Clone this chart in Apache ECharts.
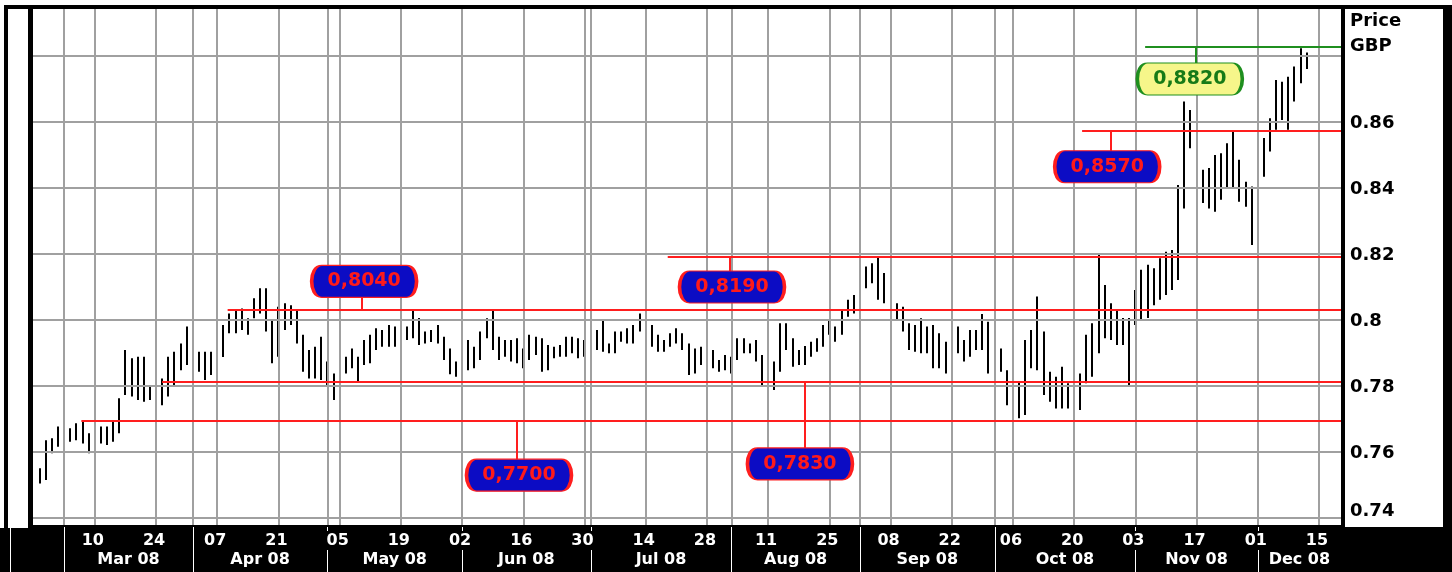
<!DOCTYPE html>
<html><head><meta charset="utf-8">
<script src="https://cdn.jsdelivr.net/npm/echarts@6/dist/echarts.min.js"></script>
<style>html,body{margin:0;padding:0;background:#000;}#c{width:1452px;height:572px;}</style>
</head><body><div id="c"></div>
<script>
// Trading-day index: 0 = Mon 2008-03-03 ; first bar = index -4 (Tue 2008-02-26)
const firstIndex = -4;
const highs = [
0.7551,0.7636,0.7642,0.7677,
0.7677,0.7672,0.7687,0.7692,0.7657,0.7642,0.7677,0.7677,0.7692,0.7763,
0.7909,0.7884,0.7889,0.7889,0.7798,0.7793,0.7823,0.7889,0.7904,0.7929,
0.7980,0.7961,0.7904,0.7904,0.7904,0.7914,0.7985,0.8020,0.8030,0.8035,
0.8005,0.8066,0.8096,0.8096,0.8000,0.8040,0.8051,0.8045,0.8030,0.7955,
0.7909,0.7919,0.7949,0.7874,0.7838,0.7891,0.7889,0.7914,0.7889,0.7939,
0.7955,0.7975,0.7970,0.7985,0.7980,0.7980,0.7980,0.8030,0.8006,0.7965,
0.7970,0.7985,0.7949,0.7914,0.7874,0.7924,0.7939,0.7919,0.7965,0.8005,
0.8030,0.7949,0.7939,0.7939,0.7945,0.7914,0.7955,0.7949,0.7945,0.7924,
0.7919,0.7924,0.7949,0.7949,0.7945,0.7939,0.7924,0.7970,0.8000,0.7929,
0.7965,0.7965,0.7975,0.7985,0.8020,0.8020,0.7985,0.7955,0.7939,0.7960,
0.7975,0.7960,0.7929,0.7914,0.7919,0.7934,0.7909,0.7879,0.7894,0.7889,
0.7945,0.7945,0.7929,0.7939,0.7894,0.7838,0.7874,0.7990,0.7990,0.7945,
0.7909,0.7921,0.7934,0.7945,0.7985,0.8000,0.7980,0.8030,0.8061,0.8076,
0.8121,0.8162,0.8172,0.8190,0.8142,0.8076,0.8051,0.8040,0.7990,0.7985,
0.8005,0.7980,0.7985,0.7960,0.7934,0.7980,0.7980,0.7939,0.7970,0.7970,
0.8018,0.7995,0.7955,0.7914,0.7848,0.7798,0.7813,0.7939,0.7970,0.8071,
0.7965,0.7843,0.7828,0.7858,0.7808,0.7778,0.7838,0.7955,0.7990,0.8197,
0.8106,0.8051,0.8030,0.8006,0.8006,0.8091,0.8152,0.8167,0.8157,0.8187,
0.8207,0.8212,0.8409,0.8662,0.8636,0.8576,0.8455,0.8460,0.8500,0.8505,
0.8535,0.8571,0.8485,0.8419,0.8404,0.8525,0.8551,0.8611,0.8727,0.8722,
0.8737,0.8768,0.8823,0.8810
];
const lows = [
0.7505,0.7515,0.7596,0.7616,
0.7626,0.7631,0.7636,0.7626,0.7596,0.7591,0.7626,0.7621,0.7631,0.7657,
0.7773,0.7768,0.7758,0.7752,0.7758,0.7737,0.7742,0.7768,0.7798,0.7848,
0.7864,0.7864,0.7843,0.7818,0.7833,0.7858,0.7888,0.7960,0.7960,0.7970,
0.7955,0.8005,0.8020,0.7965,0.7869,0.7889,0.7970,0.7985,0.7929,0.7843,
0.7823,0.7823,0.7818,0.7798,0.7758,0.7818,0.7838,0.7854,0.7813,0.7864,
0.7869,0.7909,0.7919,0.7919,0.7919,0.7945,0.7939,0.7945,0.7924,0.7929,
0.7933,0.7929,0.7879,0.7836,0.7828,0.7858,0.7848,0.7854,0.7879,0.7945,
0.7909,0.7879,0.7889,0.7874,0.7869,0.7854,0.7879,0.7894,0.7843,0.7848,
0.7884,0.7889,0.7889,0.7899,0.7884,0.7889,0.7864,0.7909,0.7904,0.7899,
0.7899,0.7934,0.7929,0.7929,0.7965,0.7965,0.7919,0.7904,0.7904,0.7919,
0.7929,0.7909,0.7833,0.7838,0.7864,0.7879,0.7854,0.7843,0.7848,0.7838,
0.7879,0.7899,0.7899,0.7874,0.7800,0.7793,0.7788,0.7843,0.7909,0.7858,
0.7864,0.7864,0.7889,0.7904,0.7919,0.7955,0.7934,0.7955,0.8010,0.8020,
0.8073,0.8096,0.8111,0.8061,0.8051,0.8010,0.8000,0.7965,0.7909,0.7904,
0.7899,0.7899,0.7854,0.7854,0.7838,0.7869,0.7899,0.7874,0.7889,0.7909,
0.7909,0.7838,0.7884,0.7843,0.7742,0.7692,0.7702,0.7712,0.7854,0.7848,
0.7773,0.7752,0.7732,0.7732,0.7732,0.7687,0.7727,0.7808,0.7828,0.7899,
0.7945,0.7939,0.7924,0.7924,0.7797,0.7985,0.8000,0.8006,0.8045,0.8061,
0.8076,0.8091,0.8121,0.8338,0.8520,0.8399,0.8354,0.8338,0.8328,0.8364,
0.8399,0.8399,0.8358,0.8343,0.8227,0.8237,0.8434,0.8510,0.8576,0.8606,
0.8576,0.8662,0.8717,0.8760
];
const dayTickDates = ['2008-03-10','2008-03-24','2008-04-07','2008-04-21','2008-05-05','2008-05-19','2008-06-02','2008-06-16','2008-06-30','2008-07-14','2008-07-28','2008-08-11','2008-08-25','2008-09-08','2008-09-22','2008-10-06','2008-10-20','2008-11-03','2008-11-17','2008-12-01','2008-12-15'];
const dayTickLabels = ['10','24','07','21','05','19','02','16','30','14','28','11','25','08','22','06','20','03','17','01','15'];
const monthStartDates = ['2008-03-03','2008-04-01','2008-05-01','2008-06-02','2008-07-01','2008-08-01','2008-09-01','2008-10-01','2008-11-03','2008-12-01'];
const monthLabels = ['Mar 08','Apr 08','May 08','Jun 08','Jul 08','Aug 08','Sep 08','Oct 08','Nov 08','Dec 08'];
const gridValues = [0.74,0.76,0.78,0.80,0.82,0.84,0.86,0.88];
const yLabelValues = [0.86,0.84,0.82,0.80,0.78,0.76,0.74];
const yLabelTexts = ['0.86','0.84','0.82','0.8','0.78','0.76','0.74'];
// support / resistance levels
const levelValues = [0.8031,0.7695,0.8191,0.7813,0.8573,0.8827];
const levelTexts = ['0,8040','0,7700','0,8190','0,7830','0,8570','0,8820'];
const levelStartIdx = [26.7,2.8,98.6,16.0,166.3,176.6];
const calloutIdx = [49.0,74.3,109.1,120.2,170.4,183.9];
const calloutValues = [0.8117,0.7530,0.8100,0.7564,0.8464,0.8730];
const connectorIdx = [48.6,74.0,108.8,121.0,171.0,184.8];
const connectorEnd = [0.8070,0.7577,0.8147,0.7611,0.8512,0.8777];

const X_MIN = -5.1, X_MAX = 208.6, Y_MIN = 0.7379, Y_MAX = 0.8942;
const FONT = 'DejaVu Sans';

function dateToIndex(s){
  const base = Date.UTC(2008,2,3);
  const p = s.split('-').map(Number);
  const days = Math.round((Date.UTC(p[0],p[1]-1,p[2]) - base)/86400000);
  const w = Math.floor(days/7), r = days - 7*w;
  return w*5 + Math.min(r,5);
}
const tickIdx = dayTickDates.map(dateToIndex);
const monthIdx = monthStartDates.map(dateToIndex);

const barData = highs.map((h,k)=>[firstIndex+k, lows[k], h]);

const gridLineData = [];
tickIdx.concat(monthIdx).forEach(v=>gridLineData.push({xAxis:v}));
gridValues.forEach(v=>gridLineData.push({yAxis:v}));

const levelLines = [], callouts = [];
levelValues.forEach((v,k)=>{
  const green = k===5;
  const col = green ? '#1f8f1f' : '#ff1e1e';
  levelLines.push([{coord:[levelStartIdx[k],v], lineStyle:{color:col}},{coord:[X_MAX,v]}]);
  levelLines.push([{coord:[connectorIdx[k],v], lineStyle:{color:col}},{coord:[connectorIdx[k],connectorEnd[k]]}]);
  callouts.push({
    coord:[calloutIdx[k], calloutValues[k]],
    symbol:'path://M13,0 H93 C106,0 106,31 93,31 H13 C0,31 0,0 13,0 Z',
    symbolSize:[105,32], symbolKeepAspect:false,
    itemStyle:{color: green ? '#f6f68a' : '#0c0cc4', borderColor: col, borderWidth:2},
    label:{show:true, position:'inside', formatter: levelTexts[k], color: green ? '#177a17' : '#ff1a1a',
      fontSize:19, fontWeight:'bold', fontFamily:FONT}
  });
});

const chart = echarts.init(document.getElementById('c'), null, {renderer:'canvas'});
chart.setOption({
  animation:false,
  backgroundColor:'#000',
  grid:{left:33, right:111, top:9, bottom:47, show:true, backgroundColor:'#fff', borderWidth:0},
  xAxis:{type:'value', min:X_MIN, max:X_MAX, show:false, splitLine:{show:false}},
  yAxis:{type:'value', min:Y_MIN, max:Y_MAX, show:false, splitLine:{show:false}, scale:true},
  series:[
    {type:'line', data:[], z:1, silent:true,
     markLine:{silent:true, symbol:['none','none'], label:{show:false}, animation:false,
       lineStyle:{color:'#a0a0a0', width:2, type:'solid'}, data:gridLineData}},
    {type:'custom', z:3, silent:true, data:barData,
     renderItem:function(params, api){
       const x = api.value(0);
       const lo = api.coord([x, api.value(1)]);
       const hi = api.coord([x, api.value(2)]);
       return {type:'rect', shape:{x:Math.round(lo[0])-1, y:hi[1], width:2, height:Math.max(1, lo[1]-hi[1])}, style:{fill:'#000'}};
     }},
    {type:'line', data:[], z:4, silent:true,
     markLine:{silent:true, symbol:['none','none'], label:{show:false}, animation:false,
       lineStyle:{width:2, type:'solid'}, data:levelLines},
     markPoint:{silent:true, animation:false, data:callouts}}
  ]
});

function px(i, v){ return chart.convertToPixel({gridIndex:0}, [i, v]); }
const g = [];
g.push({type:'rect', shape:{x:0,y:0,width:1452,height:5}, style:{fill:'#fff'}});
g.push({type:'rect', shape:{x:0,y:0,width:4,height:528}, style:{fill:'#fff'}});
g.push({type:'rect', shape:{x:8,y:9,width:20,height:519}, style:{fill:'#fff'}});
g.push({type:'rect', shape:{x:1345,y:9,width:98,height:518}, style:{fill:'#fff'}});
g.push({type:'rect', shape:{x:10,y:528,width:1,height:44}, style:{fill:'#fff'}});
g.push({type:'text', x:1350, y:21, style:{text:'Price', fill:'#000', font:'bold 18px '+FONT, textVerticalAlign:'middle'}});
g.push({type:'text', x:1350, y:46, style:{text:'GBP', fill:'#000', font:'bold 18px '+FONT, textVerticalAlign:'middle'}});
yLabelValues.forEach((v,k)=>{
  const p = px(0, v);
  g.push({type:'text', x:1350, y:Math.min(p[1]+1, 511), style:{text:yLabelTexts[k], fill:'#000', font:'bold 18px '+FONT, textVerticalAlign:'middle'}});
});
tickIdx.forEach((t,k)=>{
  const p = px(t, Y_MIN);
  g.push({type:'text', x:p[0]-2, y:541, style:{text:dayTickLabels[k], fill:'#fff', font:'bold 16px '+FONT, textAlign:'center', textVerticalAlign:'middle'}});
});
const bounds = monthIdx.map(m=>px(m, Y_MIN)[0]);
bounds.push(px(X_MAX, Y_MIN)[0]);
monthLabels.forEach((lab,k)=>{
  g.push({type:'text', x:(bounds[k]+bounds[k+1])/2, y:560, style:{text:lab, fill:'#fff', font:'bold 16px '+FONT, textAlign:'center', textVerticalAlign:'middle'}});
});
monthIdx.forEach((m,k)=>{
  const x = Math.round(bounds[k]) + 0.5;
  const near = tickIdx.some(t=>Math.abs(t-m)<=2);
  if (near) {
    g.push({type:'line', shape:{x1:x,y1:527,x2:x,y2:531}, style:{stroke:'#fff', lineWidth:1}});
    g.push({type:'line', shape:{x1:x,y1:550,x2:x,y2:572}, style:{stroke:'#fff', lineWidth:1}});
  } else {
    g.push({type:'line', shape:{x1:x,y1:527,x2:x,y2:572}, style:{stroke:'#fff', lineWidth:1}});
  }
});
chart.setOption({graphic:g});
</script>
</body></html>
